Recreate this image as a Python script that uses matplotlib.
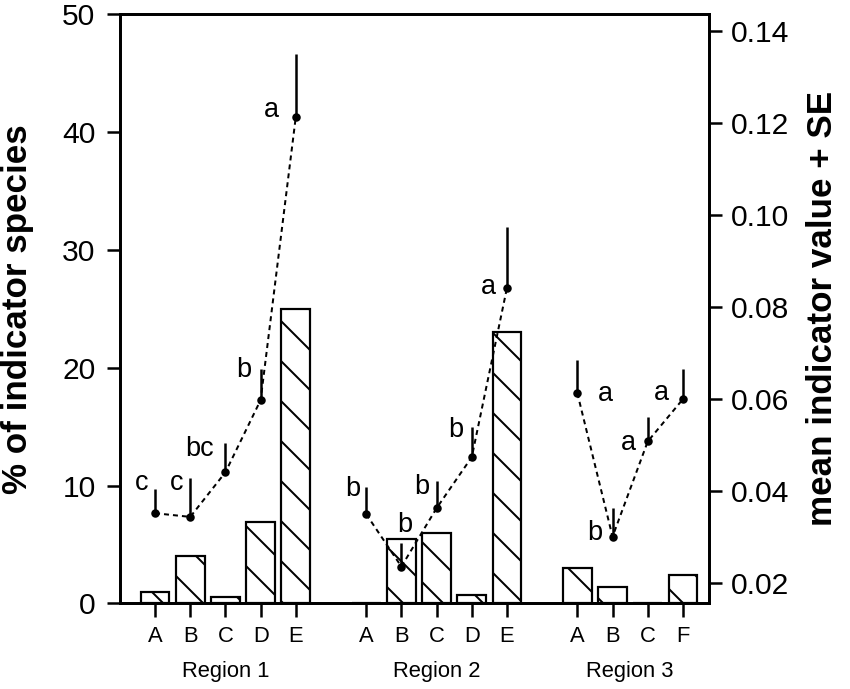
import numpy as np
import matplotlib.pyplot as plt
from matplotlib import transforms

# the hatch cell grows with dpi, so this dpi gives the sparse "\\" hatch of the original
DPI = 120


def px(v):
    # size in output pixels -> points
    return v * 72 / DPI


plt.rcParams['font.family'] = ['Liberation Sans', 'DejaVu Sans']
plt.rcParams['hatch.linewidth'] = px(2)

regions = ["Region 1", "Region 2", "Region 3"]
cats_r1 = ["A", "B", "C", "D", "E"]
cats_r2 = ["A", "B", "C", "D", "E"]
cats_r3 = ["A", "B", "C", "F"]

# % of indicator species (bars, left axis)
pct_r1 = [1.0, 4.0, 0.5, 6.9, 25.0]
pct_r2 = [0.0, 5.5, 6.0, 0.7, 23.0]
pct_r3 = [3.0, 1.4, 0.0, 2.4]

# mean indicator value and SE (points, right axis)
mean_r1 = [0.0351, 0.0343, 0.0440, 0.0597, 0.1213]
mean_r2 = [0.0349, 0.0235, 0.0362, 0.0473, 0.0841]
mean_r3 = [0.0612, 0.0300, 0.0507, 0.0599]
se_r1 = [0.0052, 0.0084, 0.0063, 0.0068, 0.0136]
se_r2 = [0.0058, 0.0051, 0.0058, 0.0066, 0.0133]
se_r3 = [0.0071, 0.0062, 0.0054, 0.0065]

letters_r1 = ["c", "c", "bc", "b", "a"]
letters_r2 = ["b", "b", "b", "b", "a"]
letters_r3 = ["a", "b", "a", "a"]

# where each letter sits relative to the top of its SE line (pixels, x right / y up)
letter_dx = [-13, -14, -26, -17, -24, -13, 3, -15, -16, -19, 28, -18, -19, -22]
letter_dy = [-1, -12, -13, -8, -63, -9, 11, -13, -10, -67, -41, -32, -33, -31]

groups = [
    (regions[0], cats_r1, pct_r1, mean_r1, se_r1, letters_r1),
    (regions[1], cats_r2, pct_r2, mean_r2, se_r2, letters_r2),
    (regions[2], cats_r3, pct_r3, mean_r3, se_r3, letters_r3),
]

fig = plt.figure(figsize=(850 / DPI, 689 / DPI), dpi=DPI)
ax = fig.add_axes([0.1406, 0.1244, 0.6939, 0.8546])
ax2 = ax.twinx()

blend = transforms.blended_transform_factory(ax.transData, ax.transAxes)
lw = px(2.8)
all_x, all_labels = [], []
k = 0
start = 0
for region, cats, pct, mean, se, letters in groups:
    x = start + np.arange(len(cats))
    ax.bar(x, pct, width=0.82, facecolor='white', edgecolor='black',
           linewidth=px(2.2), hatch='\\')
    ax2.errorbar(x, mean, yerr=[np.zeros(len(se)), se], fmt='none',
                 ecolor='black', elinewidth=px(2.5), capsize=0)
    ax2.plot(x, mean, color='black', linewidth=px(2), linestyle=(0, (2.5, 2)),
             marker='o', markersize=px(8.5), markeredgewidth=0)
    tops = np.array(mean) + np.array(se)
    for xi, yi, let in zip(x, tops, letters):
        ax2.annotate(let, (xi, yi), xytext=(px(letter_dx[k]), px(letter_dy[k])),
                     textcoords='offset points', ha='center', va='baseline',
                     fontsize=px(27))
        k += 1
    ax.text(x.mean(), -0.1247, region, transform=blend, ha='center',
            va='baseline', fontsize=px(22))
    all_x += list(x)
    all_labels += cats
    start += len(cats) + 1

ax.set_xlim(-1.01, 15.75)
ax.set_ylim(0, 50)
ax2.set_ylim(0.01552, 0.14352)

ax.set_xticks(all_x)
ax.set_xticklabels(all_labels)
ax.set_yticks([0, 10, 20, 30, 40, 50])
ax2.set_yticks([0.02, 0.04, 0.06, 0.08, 0.10, 0.12, 0.14])
ax2.set_yticklabels(["%.2f" % t for t in ax2.get_yticks()])

ax.tick_params(axis='x', length=px(13.5), width=px(2.5), pad=px(9),
               labelsize=px(22), direction='out')
ax.tick_params(axis='y', length=px(13), width=px(2.5), pad=px(11),
               labelsize=px(30), direction='out')
ax2.tick_params(axis='y', length=px(12.5), width=px(2.5), pad=px(9),
                labelsize=px(30), direction='out')

for a in (ax, ax2):
    for s in a.spines.values():
        s.set_linewidth(lw)

ax.set_ylabel("% of indicator species", fontsize=px(35), fontweight='bold',
              labelpad=px(28))
ax2.set_ylabel("mean indicator value + SE", fontsize=px(35), fontweight='bold',
               labelpad=px(17))

fig.savefig("out.png", dpi=DPI)
